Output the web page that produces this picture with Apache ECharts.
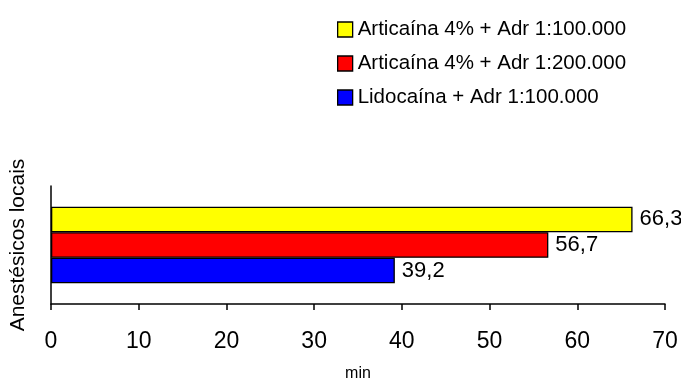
<!DOCTYPE html>
<html>
<head>
<meta charset="utf-8">
<script src="https://cdn.jsdelivr.net/npm/echarts@6/dist/echarts.min.js"></script>
<style>
  html, body { margin: 0; padding: 0; background: #fff; }
  #chart { width: 681px; height: 385px; }
</style>
</head>
<body>
<div id="chart"></div>
<script>
// Duration of anaesthesia (minutes) per local anaesthetic
const categories = ['Anestésicos locais'];
const seriesNames = [
  'Articaína 4% + Adr 1:100.000',
  'Articaína 4% + Adr 1:200.000',
  'Lidocaína + Adr 1:100.000'
];
const seriesValues = [
  [66.3],
  [56.7],
  [39.2]
];
const seriesColors = ['#FFFF00', '#FF0000', '#0000FF'];
const xTicks = { min: 0, max: 70, interval: 10 };

const FONT = '"Liberation Sans", Arial, sans-serif';

const chart = echarts.init(document.getElementById('chart'), null, { renderer: 'canvas' });

const series = seriesNames.map((name, i) => ({
  name: name,
  type: 'bar',
  data: seriesValues[i],
  barGap: '0%',
  barCategoryGap: '35%',
  itemStyle: { color: seriesColors[i], borderColor: '#000', borderWidth: 1.3 },
  label: {
    show: true,
    position: 'right',
    distance: 7,
    color: '#000',
    fontFamily: FONT,
    fontSize: 22,
    formatter: p => String(p.value).replace('.', ',')
  }
}));

chart.setOption({
  animation: false,
  backgroundColor: '#fff',
  textStyle: { fontFamily: FONT },
  legend: {
    data: seriesNames,
    orient: 'vertical',
    left: 332,
    top: 14,
    itemWidth: 15,
    itemHeight: 15,
    itemGap: 13,
    itemTextGap: 5,
    icon: 'rect',
    selectedMode: false,
    itemStyle: { borderColor: '#000', borderWidth: 1.3 },
    textStyle: { fontFamily: FONT, fontSize: 20.5, color: '#000' }
  },
  grid: { left: 49, right: 16, top: 186, bottom: 81, containLabel: false },
  xAxis: {
    type: 'value',
    min: xTicks.min,
    max: xTicks.max,
    interval: xTicks.interval,
    name: 'min',
    nameLocation: 'middle',
    nameGap: 62,
    nameTextStyle: { fontFamily: FONT, fontSize: 16, color: '#000' },
    axisLine: { show: true, lineStyle: { color: '#000', width: 1.5 } },
    axisTick: { show: true, length: 6, lineStyle: { color: '#000', width: 1.5 } },
    axisLabel: { color: '#000', fontFamily: FONT, fontSize: 23, margin: 26 },
    splitLine: { show: false }
  },
  yAxis: {
    type: 'category',
    data: categories,
    name: categories[0],
    nameLocation: 'middle',
    nameGap: 22,
    nameRotate: 90,
    nameTextStyle: { fontFamily: FONT, fontSize: 21, color: '#000' },
    axisLine: { show: true, lineStyle: { color: '#000', width: 1.5 } },
    axisTick: { show: false },
    axisLabel: { show: false },
    splitLine: { show: false }
  },
  series: series
});
</script>
</body>
</html>
